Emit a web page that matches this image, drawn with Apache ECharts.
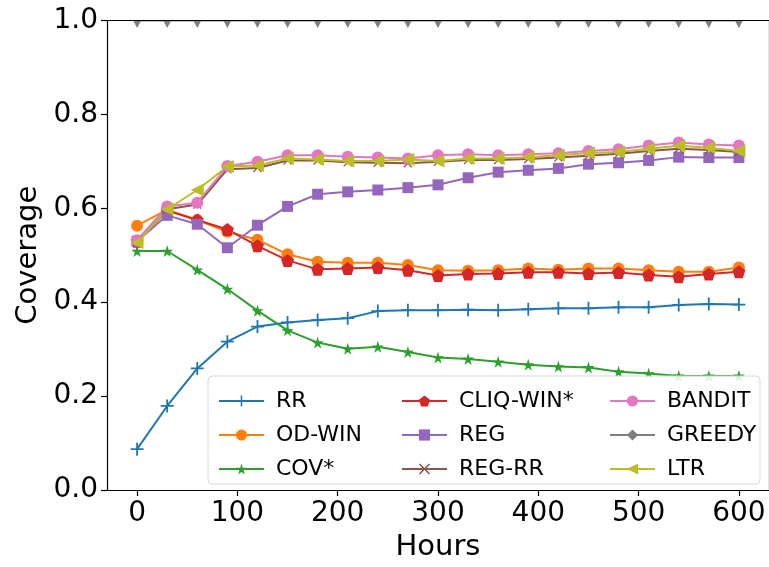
<!DOCTYPE html>
<html>
<head>
<meta charset="utf-8">
<script src="https://cdn.jsdelivr.net/npm/echarts@6/dist/echarts.min.js"></script>
<style>html,body{margin:0;padding:0;background:#fff;}#c{width:769px;height:567px;}</style>
</head>
<body>
<div id="c"></div>
<script>
const hours = [0,30,60,90,120,150,180,210,240,270,300,330,360,390,420,450,480,510,540,570,600];
const xTickLabels = [0,100,200,300,400,500,600];
const yTickLabels = [0,0.2,0.4,0.6,0.8,1.0];

const RR      = [0.087,0.179,0.259,0.316,0.348,0.357,0.362,0.366,0.381,0.383,0.383,0.384,0.383,0.385,0.387,0.387,0.389,0.389,0.394,0.396,0.395];
const OD_WIN  = [0.563,0.597,0.575,0.550,0.533,0.502,0.486,0.484,0.484,0.479,0.468,0.467,0.468,0.472,0.469,0.472,0.472,0.468,0.465,0.465,0.474];
const COV     = [0.509,0.509,0.469,0.428,0.382,0.340,0.314,0.301,0.305,0.294,0.282,0.279,0.273,0.267,0.263,0.261,0.252,0.248,0.243,0.243,0.243];
const CLIQ_WIN= [0.530,0.595,0.575,0.555,0.520,0.489,0.470,0.472,0.474,0.468,0.457,0.460,0.461,0.464,0.464,0.461,0.463,0.458,0.454,0.460,0.465];
const REG     = [0.530,0.585,0.566,0.516,0.564,0.604,0.630,0.635,0.639,0.644,0.650,0.665,0.677,0.681,0.685,0.694,0.697,0.702,0.709,0.708,0.708];
const REG_RR  = [0.530,0.598,0.608,0.683,0.686,0.702,0.702,0.698,0.697,0.696,0.699,0.703,0.703,0.705,0.708,0.712,0.716,0.722,0.727,0.724,0.720];
const BANDIT  = [0.532,0.604,0.612,0.690,0.699,0.713,0.713,0.710,0.708,0.706,0.713,0.715,0.713,0.715,0.717,0.722,0.726,0.734,0.740,0.736,0.734];
const GREEDY  = [1,1,1,1,1,1,1,1,1,1,1,1,1,1,1,1,1,1,1,1,1];
const LTR     = [0.527,0.598,0.639,0.689,0.691,0.706,0.704,0.701,0.701,0.704,0.701,0.706,0.706,0.709,0.713,0.718,0.720,0.727,0.733,0.729,0.722];

const FONT = 'DejaVu Sans';
const SYM = {
  plus: 'path://M4.3,0 H5.7 V4.3 H10 V5.7 H5.7 V10 H4.3 V5.7 H0 V4.3 H4.3 Z',
  x: 'path://M0,1 L1,0 L5,4 L9,0 L10,1 L6,5 L10,9 L9,10 L5,6 L1,10 L0,9 L4,5 Z',
  star: 'path://M50,0 L61,35 L98,35 L68,57 L79,91 L50,70 L21,91 L32,57 L2,35 L39,35 Z',
  pent: 'path://M50,0 L98,35 L79,91 L21,91 L2,35 Z',
  tri: 'path://M0,50 L100,0 L100,100 Z',
  thinDiamond: 'path://M5,0 L8,10 L5,20 L2,10 Z'
};

function mk(name, data, color, symbol, size) {
  return {
    name, type: 'line',
    data: hours.map((h, i) => [h, data[i]]),
    symbol, symbolSize: size, symbolKeepAspect: false,
    showAllSymbol: true,
    lineStyle: { color, width: 2 },
    itemStyle: { color, borderWidth: 0 },
    emphasis: { disabled: true },
    animation: false,
    clip: false,
    z: 2
  };
}

const series = [
  mk('RR', RR, '#1f77b4', SYM.plus, 13),
  mk('OD-WIN', OD_WIN, '#ff7f0e', 'circle', 12),
  mk('COV*', COV, '#2ca02c', SYM.star, 12),
  mk('CLIQ-WIN*', CLIQ_WIN, '#d62728', SYM.pent, 13),
  mk('REG', REG, '#9467bd', 'rect', 11),
  mk('REG-RR', REG_RR, '#8c564b', SYM.x, 9),
  mk('BANDIT', BANDIT, '#e377c2', 'circle', 12),
  mk('GREEDY', GREEDY, '#7f7f7f', SYM.thinDiamond, [8, 15]),
  mk('LTR', LTR, '#bcbd22', SYM.tri, 13)
];

const legendBase = {
  orient: 'vertical', itemWidth: 45, itemHeight: 14, itemGap: 12,
  textStyle: { fontFamily: FONT, fontSize: 22, color: '#000', lineHeight: 22, padding: [0,0,0,7] },
  top: 385, z: 60, selectedMode: false, inactiveColor: '#000'
};

const chart = echarts.init(document.getElementById('c'), null, { renderer: 'canvas' });
chart.setOption({
  backgroundColor: '#fff',
  animation: false,
  grid: { left: 107, right: 0, top: 20.5, bottom: 75.5, containLabel: false },
  xAxis: [{
    type: 'value', min: -30, max: 630,
    name: 'Hours', nameLocation: 'middle', nameGap: 43,
    nameTextStyle: { fontFamily: FONT, fontSize: 29, color: '#000' },
    axisLine: { show: true, onZero: false, lineStyle: { color: '#000', width: 1.2 } },
    axisTick: { show: true, inside: false, length: 6, customValues: xTickLabels, lineStyle: { color: '#000', width: 1.2 } },
    axisLabel: { show: true, customValues: xTickLabels, margin: 10, fontFamily: FONT, fontSize: 28, color: '#000' },
    splitLine: { show: false }, z: 10
  }, {
    type: 'value', position: 'top', min: -30, max: 630,
    axisLine: { show: true, onZero: false, lineStyle: { color: '#000', width: 1.2 } },
    axisTick: { show: false }, axisLabel: { show: false }, splitLine: { show: false }, z: 10
  }],
  yAxis: [{
    type: 'value', min: 0, max: 1, interval: 0.2,
    name: 'Coverage', nameLocation: 'middle', nameGap: 64, nameRotate: 90,
    nameTextStyle: { fontFamily: FONT, fontSize: 29, color: '#000' },
    axisLine: { show: true, onZero: false, lineStyle: { color: '#000', width: 1.2 } },
    axisTick: { show: true, inside: false, length: 6, lineStyle: { color: '#000', width: 1.2 } },
    axisLabel: { margin: 9, fontFamily: FONT, fontSize: 28, color: '#000', formatter: v => v.toFixed(1) },
    splitLine: { show: false }, z: 10
  }, {
    type: 'value', position: 'right', min: 0, max: 1,
    axisLine: { show: true, onZero: false, lineStyle: { color: '#000', width: 1.2 } },
    axisTick: { show: false }, axisLabel: { show: false }, splitLine: { show: false }, z: 10
  }],
  legend: [
    Object.assign({}, legendBase, { left: 213, data: ['RR', 'OD-WIN', 'COV*'] }),
    Object.assign({}, legendBase, { left: 396, data: ['CLIQ-WIN*', 'REG', 'REG-RR'] }),
    Object.assign({}, legendBase, { left: 604, data: ['BANDIT', 'GREEDY', 'LTR'] })
  ],
  graphic: [
    { type: 'rect', z: 5, silent: true, shape: { x: 100, y: 0, width: 669, height: 20 }, style: { fill: '#fff' } },
    { type: 'rect', z: 50, silent: true, shape: { x: 208, y: 376, width: 552, height: 108, r: 4 }, style: { fill: 'rgba(255,255,255,0.85)', stroke: '#d6d6d6', lineWidth: 1 } }
  ],
  series
});
</script>
</body>
</html>
